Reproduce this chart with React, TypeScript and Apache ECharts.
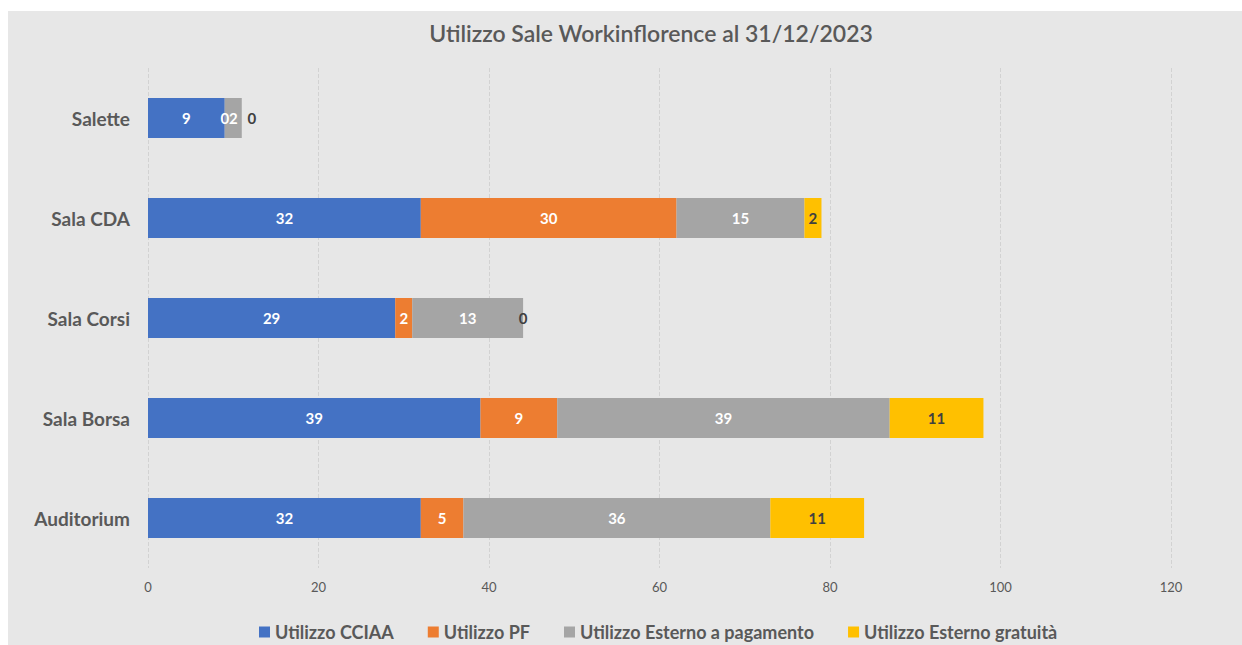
import React, { useEffect, useRef } from "react";
import * as echarts from "echarts";

const categories = ["Auditorium", "Sala Borsa", "Sala Corsi", "Sala CDA", "Salette"];
const cciaa = [32, 39, 29, 32, 9];
const pf = [5, 9, 2, 30, 0];
const esternoPagamento = [36, 39, 13, 15, 2];
const esternoGratuita = [11, 11, 0, 2, 0];
const seriesNames = [
  "Utilizzo CCIAA",
  "Utilizzo PF",
  "Utilizzo Esterno a pagamento",
  "Utilizzo Esterno gratuità",
];
const colors = ["#4472C4", "#ED7D31", "#A5A5A5", "#FFC000"];
const labelColors = ["#ffffff", "#ffffff", "#ffffff", "#404040"];

const FONT = "Lato, 'Open Sans', sans-serif";

export default function App() {
  const ref = useRef<HTMLDivElement>(null);
  useEffect(() => {
    if (!ref.current) return;
    const chart = echarts.init(ref.current, undefined, { renderer: "svg" });
    const data = [cciaa, pf, esternoPagamento, esternoGratuita];
    chart.setOption({
      animation: false,
      backgroundColor: "#e7e7e7",
      textStyle: { fontFamily: FONT },
      title: {
        text: "Utilizzo Sale Workinflorence al 31/12/2023",
        left: 638,
        top: 5,
        textAlign: "center",
        textStyle: { fontFamily: FONT, fontSize: 23, fontWeight: 600, color: "#595959" },
      },
      legend: {
        bottom: -1,
        left: 246,
        icon: "rect",
        itemWidth: 11,
        itemHeight: 11,
        itemGap: 34,
        textStyle: { fontFamily: FONT, fontSize: 18, fontWeight: "bold", color: "#595959" },
        data: seriesNames,
      },
      grid: { left: 140, right: 71, top: 57, bottom: 77, containLabel: false },
      xAxis: {
        type: "value",
        min: 0,
        max: 120,
        interval: 20,
        axisLine: { show: false },
        axisTick: { show: false },
        splitLine: { show: true, lineStyle: { color: "#d2d2d2", type: "dashed", width: 1 } },
        axisLabel: { fontFamily: FONT, fontSize: 13, color: "#595959", margin: 12 },
      },
      yAxis: {
        type: "category",
        data: categories,
        axisLine: { show: false },
        axisTick: { show: false },
        axisLabel: { fontFamily: FONT, fontSize: 19, fontWeight: "bold", color: "#595959", margin: 18 },
      },
      series: seriesNames.map((name, i) => ({
        name,
        type: "bar",
        stack: "total",
        barWidth: "40%",
        itemStyle: { color: colors[i] },
        label: {
          show: true,
          position: "inside",
          fontFamily: FONT,
          fontSize: 15,
          fontWeight: "bold",
          color: labelColors[i],
        },
        data: data[i].map((v, j) =>
          i === 3 && v === 0 && j === categories.length - 1
            ? { value: v, label: { offset: [10, 0] } }
            : v
        ),
      })),
    });
    return () => chart.dispose();
  }, []);
  return (
    <div
      ref={ref}
      style={{ position: "absolute", left: 8, top: 11, width: 1234, height: 634 }}
    />
  );
}
